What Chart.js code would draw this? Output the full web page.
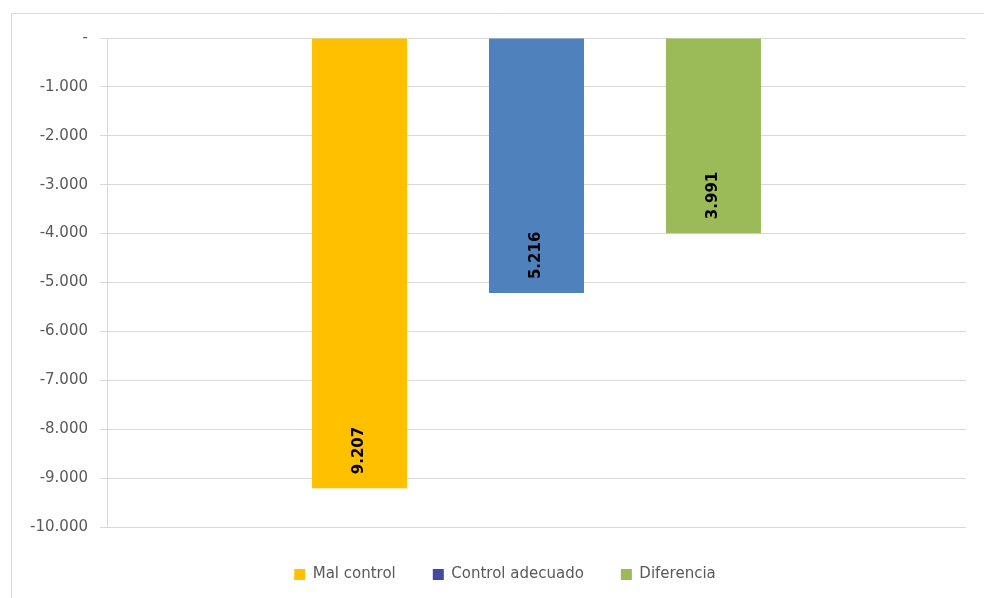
<!DOCTYPE html>
<html><head><meta charset="utf-8">
<script src="https://cdn.jsdelivr.net/npm/chart.js@4"></script>
<style>html,body{margin:0;padding:0;background:#fff}</style>
</head><body>
<canvas id="c" width="984" height="598"></canvas>
<script>
const categories = [''];
const seriesNames = ['Mal control', 'Control adecuado', 'Diferencia'];
const malControl = [-9207];
const controlAdecuado = [-5216];
const diferencia = [-3991];
const yTickValues = [0, -1000, -2000, -3000, -4000, -5000, -6000, -7000, -8000, -9000, -10000];
const yTickLabels = ['-', '-1.000', '-2.000', '-3.000', '-4.000', '-5.000', '-6.000', '-7.000', '-8.000', '-9.000', '-10.000'];

const barColors = ['#FFC000', '#4F81BD', '#9BBB59'];
const legendColors = ['#FFC000', '#4349A0', '#9BBB59'];

Chart.defaults.font.family = '"DejaVu Sans", sans-serif';

function fmt(n) { return String(n).replace(/\B(?=(\d{3})+(?!\d))/g, '.'); }

const frame = {
  id: 'frame',
  afterLayout(chart) {
    const lg = chart.legend;
    if (lg) { lg.left = 44; lg.right = 966; lg.top += 3; lg.bottom += 3; }
  },
  beforeDraw(chart) {
    const ctx = chart.ctx;
    ctx.save();
    ctx.fillStyle = '#fff';
    ctx.fillRect(0, 0, chart.width, chart.height);
    ctx.strokeStyle = '#d9d9d9';
    ctx.lineWidth = 1;
    ctx.beginPath();
    ctx.moveTo(11.5, chart.height);
    ctx.lineTo(11.5, 13.5);
    ctx.lineTo(chart.width, 13.5);
    ctx.stroke();
    ctx.restore();
  }
};

const valueLabels = {
  id: 'valueLabels',
  afterDatasetsDraw(chart) {
    const ctx = chart.ctx;
    chart.data.datasets.forEach((ds, i) => {
      const meta = chart.getDatasetMeta(i);
      meta.data.forEach((el, j) => {
        const txt = fmt(Math.abs(ds.data[j]));
        ctx.save();
        ctx.translate(el.x, el.y - 14);
        ctx.rotate(-Math.PI / 2);
        ctx.font = 'bold 15px "DejaVu Sans"';
        ctx.fillStyle = '#000';
        ctx.textAlign = 'left';
        ctx.textBaseline = 'middle';
        ctx.fillText(txt, 0, 0);
        ctx.restore();
      });
    });
  }
};

const seriesData = [malControl, controlAdecuado, diferencia];

new Chart(document.getElementById('c'), {
  type: 'bar',
  data: {
    labels: categories,
    datasets: seriesNames.map((name, i) => ({
      label: name,
      data: seriesData[i],
      backgroundColor: barColors[i],
      borderWidth: 0,
      categoryPercentage: 0.618,
      barPercentage: 0.537
    }))
  },
  options: {
    responsive: false,
    animation: false,
    layout: { padding: { left: 20, right: 18, top: 38, bottom: 9 } },
    scales: {
      x: { display: false },
      y: {
        min: -10000, max: 0,
        afterFit(s) { s.width = 87; },
        ticks: {
          stepSize: 1000, padding: 12, color: '#595959', font: { size: 15 },
          callback: (v) => { const k = yTickValues.indexOf(v); return k >= 0 ? yTickLabels[k] : ''; }
        },
        grid: { color: '#d9d9d9', tickLength: 7, tickColor: '#d9d9d9' },
        border: { color: '#d9d9d9' }
      }
    },
    plugins: {
      tooltip: { enabled: false },
      legend: {
        position: 'bottom',
        labels: {
          boxWidth: 11, boxHeight: 11, padding: 37, color: '#595959', font: { size: 15 },
          generateLabels(chart) {
            const items = Chart.defaults.plugins.legend.labels.generateLabels(chart);
            items.forEach((it, i) => { it.fillStyle = legendColors[i]; it.strokeStyle = legendColors[i]; it.lineWidth = 0; });
            return items;
          }
        }
      }
    }
  },
  plugins: [frame, valueLabels]
});
</script>
</body></html>
